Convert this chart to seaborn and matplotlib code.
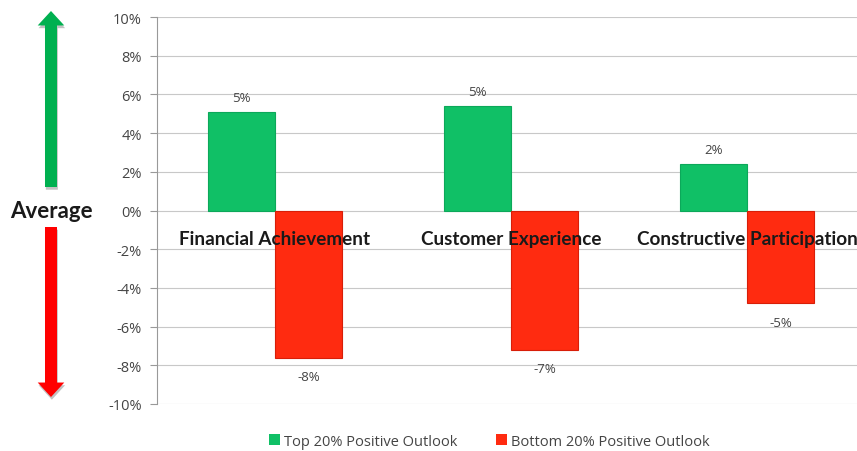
import matplotlib
matplotlib.use("Agg")
import matplotlib.pyplot as plt
from matplotlib.patches import FancyArrow
from matplotlib.ticker import FuncFormatter
import seaborn as sns
import pandas as pd

categories = ["Financial Achievement", "Customer Experience", "Constructive Participation"]
series_names = ["Top 20% Positive Outlook", "Bottom 20% Positive Outlook"]
top_values = [5.1, 5.4, 2.4]
bottom_values = [-7.6, -7.2, -4.8]
y_ticks = [-10, -8, -6, -4, -2, 0, 2, 4, 6, 8, 10]

GREEN = "#10C066"
RED = "#FF2B10"
SMALL_FONT = ["Open Sans", "DejaVu Sans"]

df = pd.DataFrame({
    "category": categories * 2,
    "series": [series_names[0]] * 3 + [series_names[1]] * 3,
    "value": top_values + bottom_values,
})

sns.set_theme(style="white")
plt.rcParams["font.family"] = ["Lato", "DejaVu Sans"]

fig = plt.figure(figsize=(8.57, 4.52), dpi=100)
ax = fig.add_axes([0.1832, 0.104, 0.8168, 0.856])

sns.barplot(data=df, x="category", y="value", hue="series",
            order=categories, hue_order=series_names,
            palette=[GREEN, RED], saturation=1, width=0.57, dodge=True,
            linewidth=0.0, ax=ax, legend=True)

for cont, edge, pad in zip(ax.containers, ["#0CA85A", "#D81E08"], [6, 9]):
    for p in cont:
        p.set_edgecolor(edge)
        p.set_linewidth(0.8)
    ax.bar_label(cont, labels=[f"{v:.0f}%" for v in cont.datavalues],
                 padding=pad, fontsize=9.5, color="#444444", family=SMALL_FONT)

ax.set_ylim(-10, 10)
ax.set_xlim(-0.5, 2.466)
ax.set_yticks(y_ticks)
ax.yaxis.set_major_formatter(FuncFormatter(lambda v, _: f"{v:.0f}%"))
ax.tick_params(axis="y", labelsize=10.5, labelcolor="#444444", left=True,
               length=5, width=0.8, color="#999999", pad=6)
for lbl in ax.get_yticklabels():
    lbl.set_family(SMALL_FONT)
ax.tick_params(axis="x", bottom=False, labelbottom=False)
ax.set_xlabel("")
ax.set_ylabel("")
ax.yaxis.grid(True, color="#C8C8C8", linewidth=0.8)
ax.set_axisbelow(True)
for side in ["top", "right", "bottom"]:
    ax.spines[side].set_visible(False)
ax.spines["left"].set_color("#999999")
ax.spines["left"].set_linewidth(0.8)

# category names sit just below the zero line
for i, name in enumerate(categories):
    ax.text(i, -1.45, name, ha="center", va="center", fontsize=13.6,
            fontweight="bold", color="#1A1A1A")

# legend below the axes
handles, labels = ax.get_legend_handles_labels()
ax.get_legend().remove()
fig.legend(handles, labels, loc="lower center", ncol=2, frameon=False,
           bbox_to_anchor=(0.571, -0.024),
           prop={"family": SMALL_FONT, "size": 10.5}, labelcolor="#444444",
           handlelength=0.75, handleheight=0.75, handletextpad=0.3,
           columnspacing=2.6)

# direction arrows around the "Average" marker
def arrow(y_start, dy, color):
    shadow = FancyArrow(0.0605, y_start - 0.006, 0, dy, width=0.014,
                        head_width=0.031, head_length=0.032,
                        length_includes_head=True, transform=fig.transFigure,
                        color="#9A9A9A", alpha=0.6, linewidth=0)
    main = FancyArrow(0.0595, y_start, 0, dy, width=0.014,
                      head_width=0.031, head_length=0.032,
                      length_includes_head=True, transform=fig.transFigure,
                      color=color, linewidth=0)
    fig.patches.extend([shadow, main])

arrow(1 - 188 / 452, (188 - 12) / 452, "#00B050")
arrow(1 - 228 / 452, -(398 - 228) / 452, "#FF0000")

fig.text(0.0595, 1 - 212 / 452, "Average", ha="center", va="center",
         fontsize=16, fontweight="bold", color="#1A1A1A")

fig.savefig("out.png", dpi=100)
